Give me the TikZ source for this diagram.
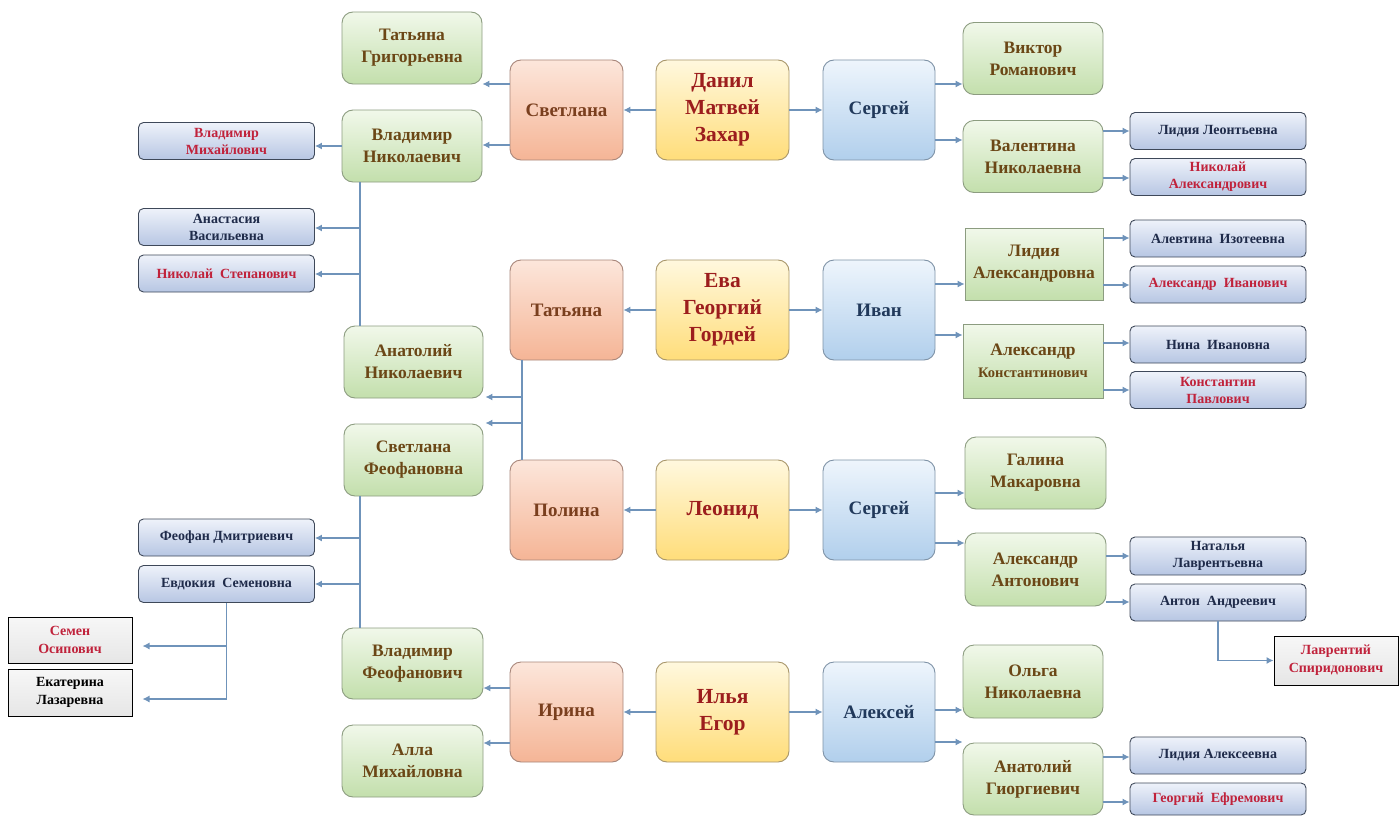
\documentclass[tikz,border=0pt]{standalone}
\usepackage{fontspec}
\setmainfont{Liberation Serif}
\usetikzlibrary{arrows.meta,calc}
\definecolor{lnc}{HTML}{6F93BA}
\definecolor{gtop}{HTML}{F1F8EA}
\definecolor{gbot}{HTML}{C3DFAC}
\definecolor{gdraw}{HTML}{8C9C80}
\definecolor{gtxt}{HTML}{6B4716}
\definecolor{otop}{HTML}{FCE6DB}
\definecolor{obot}{HTML}{F5B596}
\definecolor{odraw}{HTML}{A8867A}
\definecolor{otxt}{HTML}{7A3F1E}
\definecolor{ytop}{HTML}{FFF8DE}
\definecolor{ybot}{HTML}{FFDD7A}
\definecolor{ydraw}{HTML}{A8966A}
\definecolor{ytxt}{HTML}{9C1D1D}
\definecolor{btop}{HTML}{EEF5FC}
\definecolor{bbot}{HTML}{B1CFEC}
\definecolor{bdraw}{HTML}{7E92A6}
\definecolor{btxt}{HTML}{21395B}
\definecolor{stop}{HTML}{EEF2FA}
\definecolor{sbot}{HTML}{B7C6E3}
\definecolor{sdraw}{HTML}{3E4859}
\definecolor{snavy}{HTML}{1F2B4A}
\definecolor{sred}{HTML}{C0223B}
\definecolor{xtop}{HTML}{F7F7F7}
\definecolor{xbot}{HTML}{E6E6E6}
\begin{document}
\begin{tikzpicture}[x=1pt,y=-1pt,
  box/.style={draw, line width=0.9pt, rounded corners=11pt, align=center, inner sep=0pt},
  gbox/.style={box, draw=gdraw, top color=gtop, bottom color=gbot, text=gtxt,
    minimum width=140pt, minimum height=72pt, font=\fontsize{17.5}{22}\selectfont\bfseries},
  obox/.style={box, draw=odraw, top color=otop, bottom color=obot, text=otxt,
    minimum width=113pt, minimum height=100pt, font=\fontsize{19}{24}\selectfont\bfseries},
  ybox/.style={box, draw=ydraw, top color=ytop, bottom color=ybot, text=ytxt,
    minimum width=133pt, minimum height=100pt, font=\fontsize{21.5}{27}\selectfont\bfseries},
  bbox/.style={box, draw=bdraw, top color=btop, bottom color=bbot, text=btxt,
    minimum width=112pt, minimum height=100pt, font=\fontsize{19}{24}\selectfont\bfseries},
  sbox/.style={box, rounded corners=5pt, draw=sdraw, top color=stop, bottom color=sbot, text=snavy,
    minimum width=176pt, minimum height=37pt, font=\fontsize{14}{17}\selectfont\bfseries},
  xbox/.style={draw=black, line width=1pt, align=center, inner sep=0pt, top color=xtop, bottom color=xbot,
    text=black, minimum width=124pt, minimum height=47pt, font=\fontsize{14}{18}\selectfont\bfseries},
  ln/.style={draw=lnc, line width=1.1pt},
  arr/.style={ln, -{Latex[length=7pt,width=7pt]}}
]
\useasboundingbox (0,0) rectangle (1400,816);

% ---- row 1
\node[gbox] (tg) at (412,48) {Татьяна\\Григорьевна};
\node[obox] (sv) at (566.5,110) {Светлана};
\node[ybox] (dmz) at (722.5,110) {Данил\\Матвей\\Захар};
\node[bbox] (se1) at (879,110) {Сергей};
\node[gbox] (vr) at (1033,58.5) {Виктор\\Романович};
\node[gbox] (vn) at (1033,156.5) {Валентина\\Николаевна};
\node[sbox] (ll) at (1218,131) {Лидия Леонтьевна};
\node[sbox,text=sred] (na) at (1218,177) {Николай\\Александрович};
\node[gbox] (vnik) at (412,146) {Владимир\\Николаевич};
\node[sbox,text=sred] (vm) at (226.5,141) {Владимир\\Михайлович};
\node[sbox] (av) at (226.5,227) {Анастасия\\Васильевна};
\node[sbox,text=sred] (ns) at (226.5,273.5) {Николай\enspace Степанович};

% ---- row 2
\node[obox] (tat) at (566.5,310) {Татьяна};
\node[ybox] (egg) at (722.5,310) {Ева\\Георгий\\Гордей};
\node[bbox] (ivan) at (879,310) {Иван};
\node[gbox, sharp corners, minimum width=138pt] (la) at (1034,264) {Лидия\\Александровна};
\node[gbox, sharp corners, minimum height=74pt] (ak) at (1033,361) {Александр\\{\fontsize{14.5}{17}\selectfont Константинович}};
\node[sbox] (ai) at (1218,238.5) {Алевтина\enspace Изотеевна};
\node[sbox,text=sred] (aiv) at (1218,284.5) {Александр\enspace Иванович};
\node[sbox] (ni) at (1218,344.5) {Нина\enspace Ивановна};
\node[sbox,text=sred] (kp) at (1218,390) {Константин\\Павлович};
\node[gbox, minimum width=139pt] (anik) at (413.5,362) {Анатолий\\Николаевич};
\node[gbox, minimum width=139pt] (sf) at (413.5,460) {Светлана\\Феофановна};

% ---- row 3
\node[obox] (pol) at (566.5,510) {Полина};
\node[ybox] (leo) at (722.5,510) {Леонид};
\node[bbox] (se2) at (879,510) {Сергей};
\node[gbox, minimum width=141pt] (gm) at (1035.5,473) {Галина\\Макаровна};
\node[gbox, minimum width=141pt, minimum height=73pt] (aa) at (1035.5,569.5) {Александр\\Антонович};
\node[sbox, minimum height=38pt] (nl) at (1218,556) {Наталья\\Лаврентьевна};
\node[sbox] (an) at (1218,602.5) {Антон\enspace Андреевич};
\node[xbox,text=sred, minimum height=49pt] (lsp) at (1336,660.5) {Лаврентий\\Спиридонович};
\node[sbox] (fd) at (226.5,537.5) {Феофан Дмитриевич};
\node[sbox] (es) at (226.5,584) {Евдокия\enspace Семеновна};
\node[xbox,text=sred, minimum height=46pt] (so) at (70,640) {Семен\\Осипович};
\node[xbox] (el) at (70,692.5) {Екатерина\\Лазаревна};

% ---- row 4
\node[gbox, minimum width=141pt, minimum height=71pt] (vf) at (412.5,663.5) {Владимир\\Феофанович};
\node[gbox, minimum width=141pt] (am) at (412.5,761) {Алла\\Михайловна};
\node[obox] (ir) at (566.5,712) {Ирина};
\node[ybox] (ie) at (722.5,712) {Илья\\Егор};
\node[bbox] (al) at (879,712) {Алексей};
\node[gbox, minimum height=73pt] (on) at (1033,681.5) {Ольга\\Николаевна};
\node[gbox] (ag) at (1033,779) {Анатолий\\Гиоргиевич};
\node[sbox] (lal) at (1218,755.5) {Лидия Алексеевна};
\node[sbox,text=sred, minimum height=32pt] (ge) at (1218,799) {Георгий\enspace Ефремович};

% ---- junction coordinates
\coordinate (tj) at (522,360);
\coordinate (vj) at (360,182);
\coordinate (fj) at (360,496);

% ---- connectors row 1
\draw[arr] (dmz) -- (sv);
\draw[arr] (dmz) -- (se1);
\draw[arr] (sv.west |- 0,84) -- (tg.east |- 0,84);
\draw[arr] (sv.west |- 0,145) -- (vnik.east |- 0,145);
\draw[arr] (vnik.west |- 0,146) -- (vm.east |- 0,146);
\draw[arr] (se1.east |- 0,84) -- (vr.west |- 0,84);
\draw[arr] (se1.east |- 0,140) -- (vn.west |- 0,140);
\draw[arr] (vn.east |- 0,131) -- (ll.west |- 0,131);
\draw[arr] (vn.east |- 0,178) -- (na.west |- 0,178);
\draw[ln] (vj) -- (vj |- anik.north);
\draw[arr] (vj |- 0,228) -- (av.east |- 0,228);
\draw[arr] (vj |- 0,274) -- (ns.east |- 0,274);

% ---- connectors row 2
\draw[arr] (egg) -- (tat);
\draw[arr] (egg) -- (ivan);
\draw[arr] (ivan.east |- 0,284) -- (la.west |- 0,284);
\draw[arr] (ivan.east |- 0,335) -- (ak.west |- 0,335);
\draw[arr] (la.east |- 0,238) -- (ai.west |- 0,238);
\draw[arr] (la.east |- 0,285) -- (aiv.west |- 0,285);
\draw[arr] (ak.east |- 0,343) -- (ni.west |- 0,343);
\draw[arr] (ak.east |- 0,390) -- (kp.west |- 0,390);
\draw[ln] (tj) -- (tj |- pol.north);
\draw[arr] (tj |- 0,397) -- ($(anik.east |- 0,397)+(2,0)$);
\draw[arr] (tj |- 0,423) -- ($(sf.east |- 0,423)+(2,0)$);

% ---- connectors row 3
\draw[arr] (leo) -- (pol);
\draw[arr] (leo) -- (se2);
\draw[arr] (se2.east |- 0,493) -- (gm.west |- 0,493);
\draw[arr] (se2.east |- 0,543) -- (aa.west |- 0,543);
\draw[arr] (aa.east |- 0,556) -- (nl.west |- 0,556);
\draw[arr] (aa.east |- 0,602) -- (an.west |- 0,602);
\draw[arr] (an.south) |- (lsp.west);
\draw[ln] (fj) -- (fj |- vf.north);
\draw[arr] (fj |- 0,538) -- (fd.east |- 0,538);
\draw[arr] (fj |- 0,584) -- (es.east |- 0,584);
\draw[ln] (es.south) -- (es.south |- 0,699);
\draw[arr, shorten >=10pt] (es.south |- 0,646) -- (so.east |- 0,646);
\draw[arr, shorten >=10pt] (es.south |- 0,699) -- (el.east |- 0,699);

% ---- connectors row 4
\draw[arr] (ie) -- (ir);
\draw[arr] (ie) -- (al);
\draw[arr] (ir.west |- 0,688) -- (vf.east |- 0,688);
\draw[arr] (ir.west |- 0,743) -- (am.east |- 0,743);
\draw[arr] (al.east |- 0,710) -- (on.west |- 0,710);
\draw[arr] (al.east |- 0,742) -- (ag.west |- 0,742);
\draw[arr] (ag.east |- 0,757) -- (lal.west |- 0,757);
\draw[arr] (ag.east |- 0,802) -- (ge.west |- 0,802);
\end{tikzpicture}
\end{document}
